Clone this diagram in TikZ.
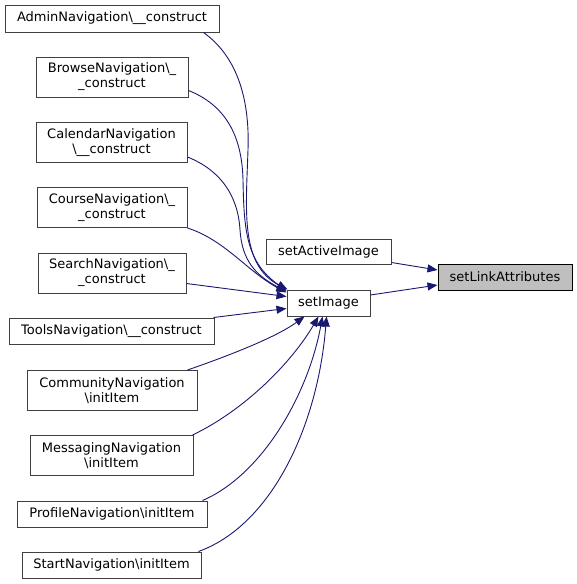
\documentclass[tikz,border=0pt]{standalone}
\usepackage{fontspec}
\setmainfont{DejaVu Sans}
\usetikzlibrary{arrows.meta,calc}
\definecolor{edgecol}{HTML}{191970}
\definecolor{boxline}{HTML}{404040}
\definecolor{hlfill}{HTML}{BFBFBF}
\begin{document}
\begin{tikzpicture}[x=1pt,y=-1pt,
  fn/.style={draw=boxline,line width=1pt,fill=white,inner sep=0pt,align=center,
    font=\fontsize{13}{15}\selectfont},
  hl/.style={fn,draw=black,fill=hlfill},
  edge/.style={draw=edgecol,line width=0.9pt,-{Triangle[length=10pt,width=8pt]},
    fill=none}]
\useasboundingbox (0,0) rectangle (577,584);
\def\bs{\textbackslash}
\node[fn,minimum width=214pt,minimum height=27pt] (admin) at (112,18.5) {AdminNavigation\bs\_\_construct};
\node[fn,minimum width=152pt,minimum height=40pt] (browse) at (112,77) {BrowseNavigation\bs\_\\\_construct};
\node[fn,minimum width=151pt,minimum height=40pt] (calendar) at (111.5,142.5) {CalendarNavigation\\\bs\_\_construct};
\node[fn,minimum width=150pt,minimum height=40pt] (course) at (112,207.5) {CourseNavigation\bs\_\\\_construct};
\node[fn,minimum width=148pt,minimum height=40pt] (search) at (112,273) {SearchNavigation\bs\_\\\_construct};
\node[fn,minimum width=205pt,minimum height=26pt] (tools) at (111.5,331) {ToolsNavigation\bs\_\_construct};
\node[fn,minimum width=170pt,minimum height=40pt] (community) at (112,390.5) {CommunityNavigation\\\bs initItem};
\node[fn,minimum width=163pt,minimum height=40pt] (messaging) at (111.5,455.5) {MessagingNavigation\\\bs initItem};
\node[fn,minimum width=190pt,minimum height=26pt] (profile) at (112,514) {ProfileNavigation\bs initItem};
\node[fn,minimum width=179pt,minimum height=26pt] (start) at (111.5,565) {StartNavigation\bs initItem};
\node[fn,minimum width=125pt,minimum height=25pt] (active) at (328.5,251.5) {setActiveImage};
\node[fn,minimum width=83pt,minimum height=26pt] (setimg) at (328.5,303) {setImage};
\node[hl,minimum width=134pt,minimum height=26pt] (link) at (505,277) {setLinkAttributes};

% edges into setLinkAttributes
\draw[edge] ([yshift=-11pt]active.east) -- ([yshift=7pt]link.west);
\draw[edge] ([yshift=8pt]setimg.east) -- ([yshift=-8pt]link.west);

% edges into setImage
\draw[edge] ([xshift=-16pt]admin.south east) .. controls (235,55) and (250,95) .. (248,150)
   .. controls (246,210) and (240,265) .. ([xshift=1pt]setimg.north west);
\draw[edge] ([yshift=7pt]browse.south east) .. controls (225,105) and (242,135) .. (243,180)
   .. controls (244,230) and (246,262) .. ([xshift=0pt,yshift=-1pt]setimg.north west);
\draw[edge] ([yshift=6pt]calendar.south east) .. controls (220,170) and (238,195) .. (240,230)
   .. controls (242,260) and (255,275) .. ([yshift=-2pt]setimg.north west);
\draw[edge] (course.south east) .. controls (225,240) and (248,272) .. ([yshift=-3pt]setimg.north west);
\draw[edge] ([yshift=10pt]search.south east) -- ([yshift=-7pt]setimg.north west);
\draw[edge] ([xshift=-1pt]tools.north east) -- ([yshift=-19pt]setimg.north west);
\draw[edge] ([xshift=-10pt]community.north east) .. controls (225,357) and (275,338) .. ([xshift=18pt]setimg.south west);
\draw[edge] ([xshift=-1pt]messaging.north east) .. controls (245,410) and (292,362) .. ([xshift=32pt]setimg.south west);
\draw[edge] ([xshift=-5pt]profile.north east) .. controls (262,475) and (308,395) .. ([xshift=36pt]setimg.south west);
\draw[edge] ([xshift=-3pt]start.north east) .. controls (272,525) and (318,425) .. ([xshift=40pt]setimg.south west);
\end{tikzpicture}
\end{document}
